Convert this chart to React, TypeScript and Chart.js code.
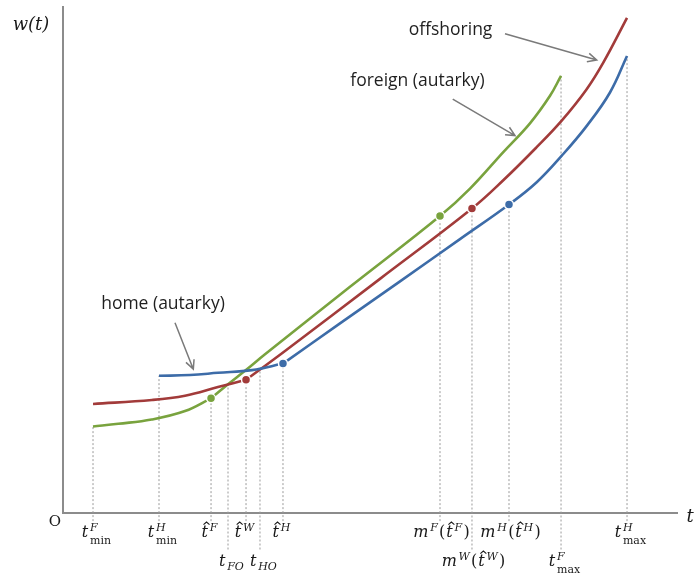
import React, { useEffect, useRef } from 'react';
import { Chart, registerables } from 'chart.js';

Chart.register(...registerables);

// ---------------- data (t in abstract units 0..100, w in 0..100) ----------------
// each curve has a lower piece (up to its t-hat point) and an upper piece
const homeLowT = [15.61, 20.65, 25.2, 30.73, 35.77];
const homeLowW = [27.06, 27.22, 27.65, 28.18, 29.47];
const homeHighT = [35.77, 45.04, 54.8, 64.55, 72.52, 77.07, 81.14, 85.2, 88.94, 91.71];
const homeHighW = [29.47, 37.39, 45.69, 54.02, 60.84, 65.29, 70.53, 76.41, 82.94, 90.14];

const offLowT = [4.88, 14.47, 19.84, 25.2, 29.76];
const offLowW = [21.51, 22.29, 23.14, 24.84, 26.27];
const offHighT = [29.76, 36.1, 51.54, 66.5, 71.59, 77.02, 81.09, 85.15, 87.85, 91.71];
const offHighW = [26.27, 31.96, 46.18, 60.06, 65.63, 72.16, 77.39, 83.59, 88.82, 97.65];

const forLowT = [4.88, 8.99, 14.42, 19.84, 24.07];
const forLowW = [17.06, 17.59, 18.43, 20.1, 22.61];
const forHighT = [24.07, 26.88, 29.59, 32.85, 46.67, 61.3, 66.18, 71.59, 75.93, 79.19, 80.98];
const forHighW = [22.61, 25.43, 28.04, 31.31, 44.61, 58.57, 63.98, 71.18, 76.86, 82.29, 86.22];

const dotT = [24.07, 29.76, 35.77, 61.3, 66.5, 72.52];
const dotW = [22.61, 26.27, 29.47, 58.57, 60.06, 60.84];
const dotSeries = ['foreign', 'offshoring', 'home', 'foreign', 'offshoring', 'home'];

const tickT = [4.88, 15.61, 24.07, 26.83, 29.76, 32.03, 35.77, 61.3, 66.5, 72.52, 80.98, 91.71];
const tickTop = [17.06, 27.06, 22.61, 25.2, 26.27, 28.3, 29.47, 58.57, 60.06, 60.84, 86.22, 90.14];
const tickRow = [1, 1, 1, 2, 1, 2, 1, 1, 2, 1, 2, 1];
type Tok = [string, string];
const tickLabels: Tok[][] = [
  [['i', 't'], ['^', 'F'], ['_u', 'min']],
  [['i', 't'], ['^', 'H'], ['_u', 'min']],
  [['h', 't'], ['^', 'F']],
  [['i', 't'], ['_', 'FO']],
  [['h', 't'], ['^', 'W']],
  [['i', 't'], ['_', 'HO']],
  [['h', 't'], ['^', 'H']],
  [['i', 'm'], ['^', 'F'], ['u', '('], ['h', 't'], ['^', 'F'], ['u', ')']],
  [['i', 'm'], ['^', 'W'], ['u', '('], ['h', 't'], ['^', 'W'], ['u', ')']],
  [['i', 'm'], ['^', 'H'], ['u', '('], ['h', 't'], ['^', 'H'], ['u', ')']],
  [['i', 't'], ['^', 'F'], ['_u', 'max']],
  [['i', 't'], ['^', 'H'], ['_u', 'max']],
];

const noteText = ['home (autarky)', 'foreign (autarky)', 'offshoring'];
const noteAt = [[16.26, 41.18], [57.64, 85.29], [63.01, 95.29]];
const arrowFrom = [[18.21, 37.51], [63.37, 81.63], [71.87, 94.51]];
const arrowTo = [[21.19, 28.37], [73.5, 74.45], [86.78, 89.35]];

// ---------------- styles ----------------
const COLORS: Record<string, string> = {
  home: '#3d6ca8',
  offshoring: '#a23b3a',
  foreign: '#79a33e',
};
const AXIS = '#8c8c8c';
const SERIF = '"DejaVu Serif", serif';

function fontFor(k: string) {
  switch (k) {
    case 'i':
    case 'h':
      return `italic 16px ${SERIF}`;
    case 'u':
      return `16px ${SERIF}`;
    case '^':
    case '_':
      return `italic 11px ${SERIF}`;
    default:
      return `11px ${SERIF}`;
  }
}

function layoutLabel(ctx: CanvasRenderingContext2D, toks: Tok[]) {
  let x = 0;
  let prevScript = false;
  let scriptStart = 0;
  let scriptEnd = 0;
  const stacked = toks.some((t, i) => i > 0 && t[0] === '_u' && toks[i - 1][0] === '^');
  const out: { k: string; s: string; x: number; w: number }[] = [];
  for (const [k, s] of toks) {
    ctx.font = fontFor(k);
    const w = ctx.measureText(s).width;
    const isScript = k === '^' || k === '_' || k === '_u';
    if (isScript) {
      if (prevScript) {
        out.push({ k, s, x: scriptStart, w });
        scriptEnd = Math.max(scriptEnd, scriptStart + w);
      } else {
        scriptStart = x + 0.8;
        out.push({ k, s, x: scriptStart, w });
        scriptEnd = scriptStart + w;
      }
      x = scriptEnd + 1.2;
      prevScript = true;
    } else {
      out.push({ k, s, x, w });
      x += w + 1;
      prevScript = false;
    }
  }
  return { out, width: x, stacked };
}

function drawLabel(ctx: CanvasRenderingContext2D, toks: Tok[], cx: number, base: number) {
  const { out, width, stacked } = layoutLabel(ctx, toks);
  const x0 = cx - width / 2;
  ctx.fillStyle = '#1a1a1a';
  ctx.strokeStyle = '#1a1a1a';
  ctx.textAlign = 'left';
  ctx.textBaseline = 'alphabetic';
  for (const o of out) {
    ctx.font = fontFor(o.k);
    let y = base;
    if (o.k === '^') y = base - 6;
    else if (o.k === '_u') y = base + (stacked ? 7 : 4);
    else if (o.k === '_') y = base + 4;
    ctx.fillText(o.s, x0 + o.x, y);
    if (o.k === 'h') {
      const hx = x0 + o.x + o.w / 2 + 1.8;
      const hy = base - 15;
      ctx.lineWidth = 1.1;
      ctx.beginPath();
      ctx.moveTo(hx - 3, hy + 2.6);
      ctx.lineTo(hx, hy);
      ctx.lineTo(hx + 3, hy + 2.6);
      ctx.stroke();
    }
  }
}

function arrow(ctx: CanvasRenderingContext2D, x1: number, y1: number, x2: number, y2: number) {
  const ang = Math.atan2(y2 - y1, x2 - x1);
  const L = 10;
  const a = 0.45;
  ctx.beginPath();
  ctx.moveTo(x1, y1);
  ctx.lineTo(x2, y2);
  ctx.moveTo(x2 - L * Math.cos(ang - a), y2 - L * Math.sin(ang - a));
  ctx.lineTo(x2, y2);
  ctx.lineTo(x2 - L * Math.cos(ang + a), y2 - L * Math.sin(ang + a));
  ctx.stroke();
}

const decor = {
  id: 'decor',
  beforeDatasetsDraw(chart: any) {
    const { ctx, chartArea: a } = chart;
    ctx.save();
    ctx.strokeStyle = AXIS;
    ctx.lineWidth = 2;
    ctx.beginPath();
    ctx.moveTo(a.left, a.top);
    ctx.lineTo(a.left, a.bottom);
    ctx.lineTo(a.right, a.bottom);
    ctx.stroke();
    ctx.restore();
  },
  afterDatasetsDraw(chart: any) {
    const { ctx, chartArea: a, scales } = chart;
    const xs = scales.x;
    const ys = scales.y;
    ctx.save();
    ctx.fillStyle = '#1a1a1a';
    ctx.textAlign = 'center';
    ctx.textBaseline = 'middle';
    ctx.font = `italic 18px ${SERIF}`;
    ctx.fillText('w(t)', a.left - 32, a.top + 19);
    ctx.fillText('t', a.right + 12, a.bottom + 4);
    ctx.font = `15px ${SERIF}`;
    ctx.fillText('O', a.left - 8, a.bottom + 9);

    tickT.forEach((t, i) => {
      const toks = tickLabels[i];
      const hasSub = toks.some((k) => k[0] === '_' || k[0] === '_u');
      const shift = hasSub ? 4 : toks[0][1] === 'm' ? 2 : -1;
      const base = a.bottom + (tickRow[i] === 1 ? 24 : 53);
      drawLabel(ctx, toks, xs.getPixelForValue(t) + shift, base);
    });

    ctx.font = '17.5px "Open Sans", sans-serif';
    ctx.fillStyle = '#1f1f1f';
    ctx.textAlign = 'center';
    ctx.textBaseline = 'middle';
    noteText.forEach((s, i) => {
      ctx.fillText(s, xs.getPixelForValue(noteAt[i][0]), ys.getPixelForValue(noteAt[i][1]));
    });
    ctx.strokeStyle = '#7a7a7a';
    ctx.lineWidth = 1.5;
    arrowFrom.forEach((f, i) => {
      arrow(
        ctx,
        xs.getPixelForValue(f[0]),
        ys.getPixelForValue(f[1]),
        xs.getPixelForValue(arrowTo[i][0]),
        ys.getPixelForValue(arrowTo[i][1])
      );
    });
    ctx.restore();
  },
};

function zip(xs: number[], ys: number[]) {
  return xs.map((x, i) => ({ x, y: ys[i] }));
}

export default function App() {
  const ref = useRef<HTMLCanvasElement | null>(null);
  useEffect(() => {
    if (!ref.current) return;
    const datasets: any[] = [];
    datasets.push({
      type: 'scatter',
      data: zip(dotT, dotW),
      pointBackgroundColor: dotSeries.map((s) => COLORS[s]),
      pointBorderColor: '#ffffff',
      pointBorderWidth: 1.5,
      pointRadius: 4.5,
      order: 0,
    });
    const curves: [string, number[], number[]][] = [
      ['home', homeLowT, homeLowW],
      ['home', homeHighT, homeHighW],
      ['offshoring', offLowT, offLowW],
      ['offshoring', offHighT, offHighW],
      ['foreign', forLowT, forLowW],
      ['foreign', forHighT, forHighW],
    ];
    curves.forEach(([name, t, w]) => {
      datasets.push({
        type: 'line',
        label: name,
        data: zip(t, w),
        borderColor: COLORS[name],
        borderWidth: 2.6,
        pointRadius: 0,
        tension: 0.4,
        fill: false,
        order: 1,
      });
    });
    tickT.forEach((t, i) => {
      datasets.push({
        type: 'line',
        data: [
          { x: t, y: tickRow[i] === 1 ? -1.6 : -7.2 },
          { x: t, y: tickTop[i] },
        ],
        borderColor: '#9a9a9a',
        borderWidth: 1,
        borderDash: [2, 2],
        pointRadius: 0,
        fill: false,
        clip: false,
        order: 2,
      });
    });
    const chart = new Chart(ref.current, {
      type: 'line',
      data: { datasets },
      options: {
        animation: false,
        responsive: false,
        devicePixelRatio: 1,
        layout: { padding: { left: 63, right: 18, top: 3, bottom: 63 } },
        scales: {
          x: { type: 'linear', min: 0, max: 100, display: false },
          y: { type: 'linear', min: 0, max: 100, display: false },
        },
        plugins: { legend: { display: false }, tooltip: { enabled: false } },
      },
      plugins: [decor],
    } as any);
    return () => chart.destroy();
  }, []);
  return (
    <div style={{ position: 'fixed', left: 0, top: 0, width: 696, height: 576, background: '#fff' }}>
      <canvas ref={ref} width={696} height={576} style={{ display: 'block' }} />
    </div>
  );
}
